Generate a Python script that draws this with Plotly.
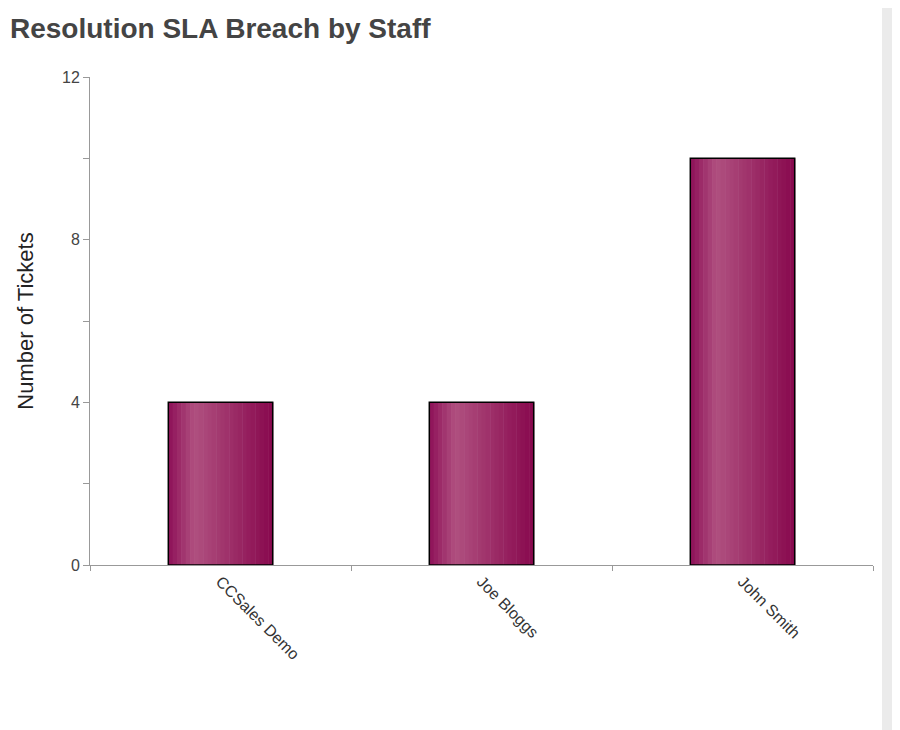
import plotly.graph_objects as go
import numpy as np

staff = ["CCSales Demo", "Joe Bloggs", "John Smith"]
tickets = [4, 4, 10]

W = 0.4
N = 24
def col(t):
    dark1 = np.array([0x8e, 0x11, 0x58]); light = np.array([0xb0, 0x50, 0x80]); dark2 = np.array([0x88, 0x08, 0x4e])
    if t < 0.25:
        c = dark1 + (light - dark1) * (t / 0.25)
    else:
        c = light + (dark2 - light) * ((t - 0.25) / 0.75)
    return "rgb(%d,%d,%d)" % tuple(c.astype(int))

fig = go.Figure()
for i in range(N):
    t = (i + 0.5) / N
    fig.add_trace(go.Bar(x=staff, y=tickets, width=W / N + 0.002, offset=-W / 2 + i * W / N,
                         marker=dict(color=col(t), line=dict(width=0)), hoverinfo="skip", showlegend=False))
fig.add_trace(go.Bar(x=staff, y=tickets, width=W, offset=-W / 2,
                     marker=dict(color="rgba(0,0,0,0)", line=dict(color="black", width=1.5)), showlegend=False))

fig.update_layout(
    barmode="overlay", width=900, height=730, plot_bgcolor="white", paper_bgcolor="white",
    margin=dict(l=82, r=35, t=69, b=173),
    title=dict(text="<b>Resolution SLA Breach by Staff</b>", x=2 / 900, xanchor="left", y=1 - 20 / 730, yanchor="middle",
               font=dict(family="Arial", size=28, color="#444")),
    font=dict(family="Arial", color="#444"),
    xaxis=dict(showline=True, linecolor="#999", ticks="outside", tickson="boundaries", ticklen=5, tickcolor="#999",
               tickangle=45, tickfont=dict(size=16, color="#333"), showgrid=False),
    yaxis=dict(range=[0, 12], tickvals=[0, 4, 8, 12], showline=True, linecolor="#999", ticks="outside", ticklen=6,
               tickcolor="#999", tickfont=dict(size=16, color="#444"), showgrid=False, zeroline=False,
               minor=dict(tickvals=[2, 6, 10], ticks="outside", ticklen=6, tickcolor="#999"),
               title=dict(text="Number of Tickets", font=dict(size=22, color="#222"), standoff=22)),
    shapes=[dict(type="rect", xref="paper", yref="paper", x0=(874 - 82) / 783, x1=(910 - 82) / 783,
                 y0=-1, y1=2, fillcolor="#ebebeb", line=dict(width=0), layer="above")],
)
fig.write_html("out.html")
